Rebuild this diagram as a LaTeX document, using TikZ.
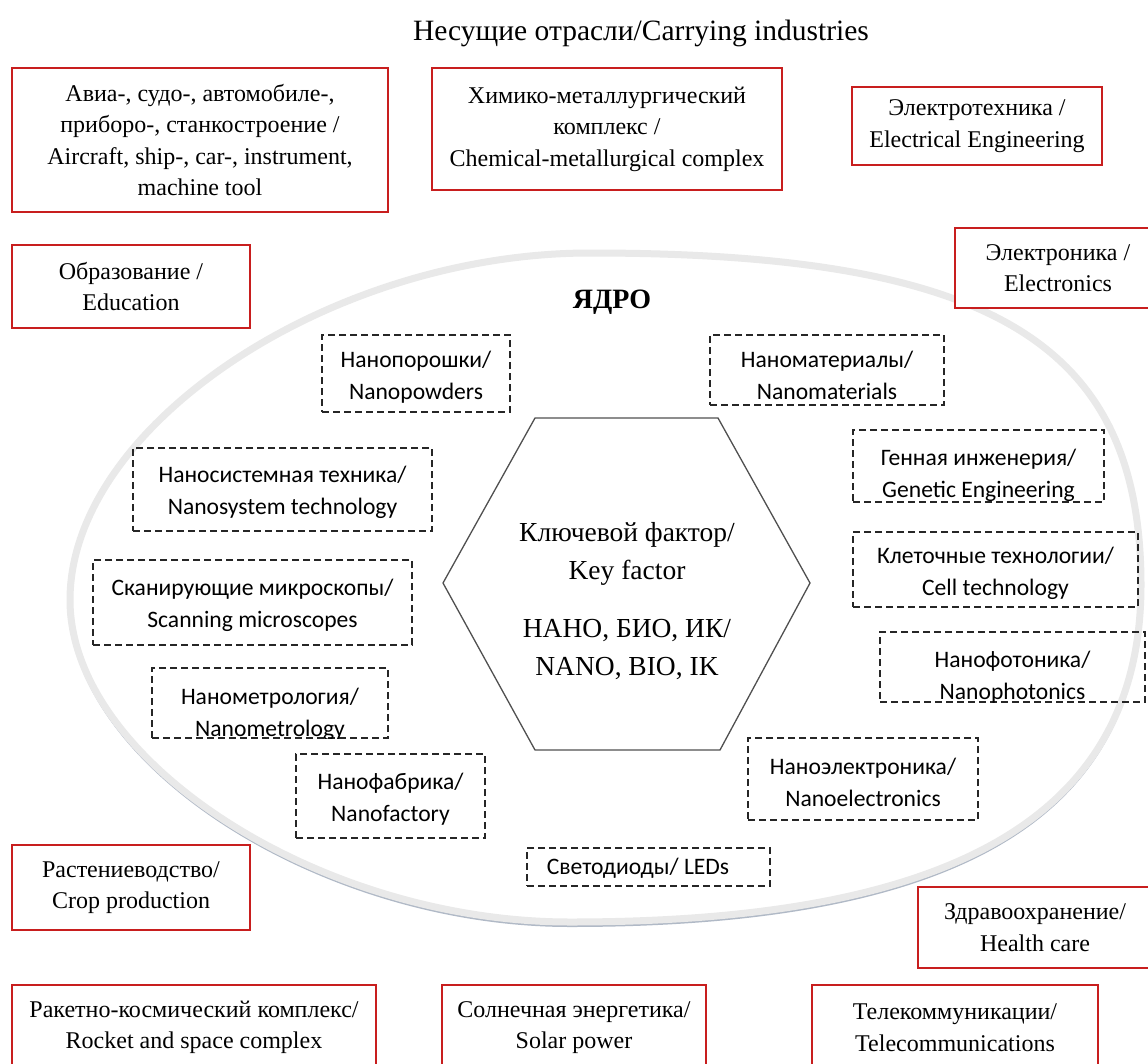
\documentclass[tikz,border=0pt]{standalone}
\usepackage{fontspec}
\setmainfont{Liberation Serif}
\newfontfamily\calfont{Carlito}
\definecolor{boxred}{RGB}{200,30,30}
\definecolor{ringgray}{RGB}{233,233,233}
\definecolor{shadowc}{RGB}{150,162,180}
\definecolor{hexc}{RGB}{80,80,80}
\tikzset{
  redbox/.style={draw=boxred, line width=1.8pt, fill=white, align=center,
    font=\fontsize{24}{31.5}\selectfont, inner sep=0pt},
  dbox/.style={draw=black!85, line width=1.4pt, dash pattern=on 7pt off 4pt, inner sep=0pt},
  dtext/.style={align=center, font=\calfont\fontsize{23.6}{32}\selectfont, inner sep=0pt},
  hexline/.style={draw=hexc, line width=1.3pt},
  ringband/.style={draw=ringgray, line width=7pt},
  ringshadow/.style={draw=shadowc, line width=3pt, opacity=0.75},
}
\newcommand\redrect[6]{\node[redbox, minimum width={#4-#2}, minimum height={#5-#3}] (#1) at ({(#2+#4)/2},{(#3+#5)/2}) {#6};}
\newcommand\dashrect[7]{%
  \node[dbox, minimum width={#4-#2}, minimum height={#5-#3}] (#1) at ({(#2+#4)/2},{(#3+#5)/2}) {};
  \node[dtext] (#1t) at ({(#2+#4)/2},{(#3+#5)/2+#6}) {#7};}
\newcommand\dashclip[7]{%
  \node[dbox, minimum width={#4-#2}, minimum height={#5-#3}] (#1) at ({(#2+#4)/2},{(#3+#5)/2}) {};
  \begin{scope}
    \clip (#1.south west) rectangle (#1.north east);
    \node[dtext] (#1t) at ({(#2+#4)/2},{(#3+#5)/2+#6}) {#7};
  \end{scope}}
\begin{document}
\begin{tikzpicture}[x=1pt,y=-1pt]
\useasboundingbox (0,0) rectangle (1148,1063);
\clip (0,0) rectangle (1148,1063);
\fill[white] (0,0) rectangle (1148,1063);

% core ring
\def\ringpath{(70,600) .. controls (70,426) and (330,253) .. (590,253)
  .. controls (992,253) and (1141,343) .. (1141,585)
  .. controls (1141,814) and (958,922) .. (570,922)
  .. controls (320,922) and (70,761) .. (70,600) -- cycle}
\fill[white] \ringpath;
\begin{scope}
  \clip (0,650) rectangle (1148,1063);
  \draw[ringshadow, yshift=-3.5pt] \ringpath;
\end{scope}
\draw[ringband] \ringpath;

% title
\node[font=\fontsize{29.5}{33}\selectfont, inner sep=0pt] (title) at (641,33) {Несущие отрасли/Carrying industries};
\node[font=\bfseries\fontsize{28}{30}\selectfont, inner sep=0pt] (core) at (612,302) {ЯДРО};

% carrying industries
\redrect{avia}{12}{68}{388}{212}{Авиа-, судо-, автомобиле-,\\приборо-, станкостроение /\\Aircraft, ship-, car-, instrument,\\machine tool}
\redrect{chem}{432}{68}{782}{190}{Химико-металлургический\\комплекс /\\Chemical-metallurgical complex}
\redrect{eleng}{852}{87}{1102}{165}{Электротехника /\\Electrical Engineering}
\redrect{edu}{12}{245}{250}{328}{Образование /\\Education}
\redrect{elec}{955}{228}{1161}{308}{Электроника /\\Electronics}
\redrect{crop}{12}{845}{250}{930}{Растениеводство/\\Crop production}
\redrect{health}{918}{887}{1152}{968}{Здравоохранение/\\Health care}
\redrect{rocket}{12}{985}{376}{1070}{Ракетно-космический комплекс/\\Rocket and space complex}
\redrect{solar}{442}{985}{706}{1070}{Солнечная энергетика/\\Solar power}
\redrect{tele}{812}{985}{1098}{1070}{Телекоммуникации/\\Telecommunications}

% key factor hexagon
\coordinate (h1) at (535,418);
\coordinate (h2) at (718,418);
\coordinate (h3) at (810,583);
\coordinate (h4) at (720,750);
\coordinate (h5) at (535,750);
\coordinate (h6) at (443,583);
\draw[hexline] (h1) -- (h2) -- (h3) -- (h4) -- (h5) -- (h6) -- cycle;
\node[align=center, font=\fontsize{27.5}{38}\selectfont, inner sep=0pt] (key) at (627,601)
  {Ключевой фактор/\\Key factor\\[20pt]НАНО, БИО, ИК/\\NANO, BIO, IK};

% core technologies
\dashrect{powd}{322}{335}{510}{412}{4}{Нанопорошки/\\Nanopowders}
\dashrect{mat}{710}{335}{944}{405}{5}{Наноматериалы/\\Nanomaterials}
\dashrect{nsys}{133}{448}{432}{531}{3}{Наносистемная техника/\\Nanosystem technology}
\dashclip{gen}{853}{430}{1104}{502}{9}{Генная инженерия/\\Genetic Engineering}
\dashrect{scan}{93}{560}{412}{645}{3}{Сканирующие микроскопы/\\Scanning microscopes}
\dashrect{cell}{853}{532}{1138}{607}{4}{Клеточные технологии/\\Cell technology}
\dashclip{phot}{880}{632}{1145}{702}{10}{Нанофотоника/\\Nanophotonics}
\dashclip{metr}{152}{668}{388}{738}{11}{Нанометрология/\\Nanometrology}
\dashrect{fab}{296}{754}{485}{838}{3}{Нанофабрика/\\Nanofactory}
\dashrect{nel}{748}{738}{978}{820}{3}{Наноэлектроника/\\Nanoelectronics}
\node[dbox, minimum width=243, minimum height=38] (led) at (648.5,867) {};
\node[dtext] (ledt) at (638,868) {Светодиоды/ LEDs};
\end{tikzpicture}
\end{document}
